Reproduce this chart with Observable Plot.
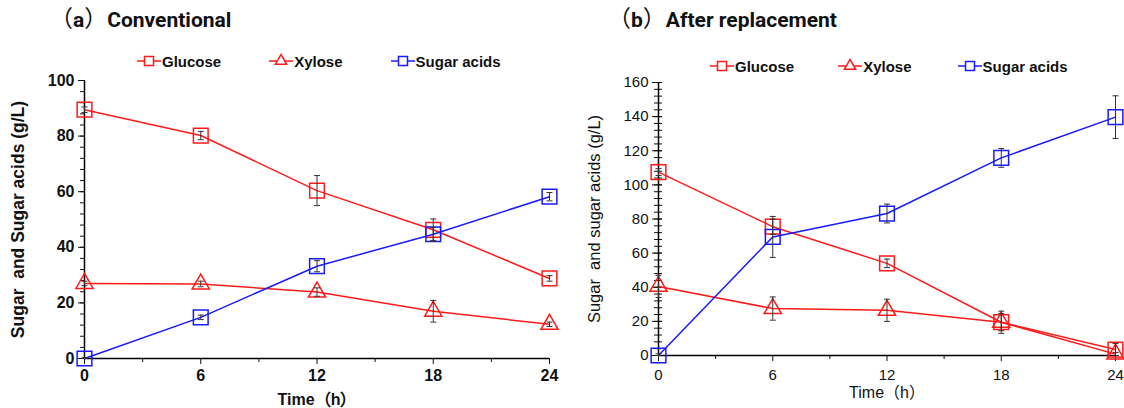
<!DOCTYPE html>
<html><head><meta charset="utf-8">
<script src="https://cdn.jsdelivr.net/npm/d3@7"></script>
<script src="https://cdn.jsdelivr.net/npm/@observablehq/plot@0.6"></script>
<style>
@font-face{font-family:"CJKParen";src:local("Noto Sans CJK SC");unicode-range:U+FF08-FF09;}
body{margin:0;background:#fff;}
#root{position:relative;width:1124px;height:408px;overflow:hidden;display:flex;}
.panel{width:562px;height:408px;flex:none;}
.title{height:40px;line-height:48px;font:bold 21px Roboto,"Liberation Sans",sans-serif;color:#111;white-space:pre;overflow:visible;}
.title .p{font:normal 23px "Noto Sans CJK SC",sans-serif;}
.legend{display:flex;align-items:center;height:24px;font:bold 15px "Liberation Sans",Arial,sans-serif;color:#111;}
.legend .item{display:flex;align-items:center;}
.legend svg{overflow:visible;margin-right:1px;}
svg{overflow:visible}
</style></head><body><div id="root"></div>
<script>
// ---- data ----
const time = [0, 6, 12, 18, 24];
const minorTimeTicks = [3, 9, 15, 21];
const seriesNames = ["Glucose", "Xylose", "Sugar acids"];

// (a) Conventional
const glucoseA    = [89.5, 80.2, 60.4, 46.3, 28.8];
const glucoseAErr = [1.0, 1.5, 5.4, 3.9, 1.0];
const xyloseA     = [27.0, 26.8, 23.9, 17.0, 12.3];
const xyloseAErr  = [0.8, 1.0, 1.5, 3.9, 0.8];
const acidsA      = [0, 14.8, 33.2, 44.7, 58.2];
const acidsAErr   = [0.3, 0.8, 2.0, 2.5, 1.5];

// (b) After replacement
const glucoseB    = [107.5, 75.5, 54.0, 19.5, 3.5];
const glucoseBErr = [2.0, 4.5, 2.5, 6.5, 3.5];
const xyloseB     = [40.5, 27.5, 26.5, 19.5, 0.8];
const xyloseBErr  = [6.5, 6.8, 6.5, 5.0, 1.0];
const acidsB      = [0, 69.5, 83.2, 115.8, 139.7];
const acidsBErr   = [1.0, 12.0, 5.5, 5.5, 12.5];

const yTicksA = [0, 20, 40, 60, 80, 100];
const yTicksB = [0, 20, 40, 60, 80, 100, 120, 140, 160];

const RED = "#ff1a1a", BLUE = "#1a1aff", ERR = "#333";

const capSymbol = {draw(ctx){ ctx.moveTo(-3, 0); ctx.lineTo(3, 0); }};

function rowsOf(values, errs){ return values.map((v, i) => ({t: time[i], v, err: errs[i]})); }

function chart(cfg){
  const marks = [];
  // minor ticks
  marks.push(Plot.axisX({ticks: minorTimeTicks, tickSize: 4, tickFormat: () => "", label: null}));
  marks.push(Plot.axisY({ticks: cfg.yMinor, tickSize: 4, tickFormat: () => "", label: null}));
  if (cfg.cross) marks.push(Plot.axisY({ticks: cfg.yMinor, tickSize: -4, tickFormat: () => "", label: null}));
  // major ticks + labels
  marks.push(Plot.axisX({ticks: time, tickSize: 6, tickPadding: cfg.xTickPad, fontSize: cfg.tickFont, label: null}));
  marks.push(Plot.axisY({ticks: cfg.yTicks, tickSize: 6, tickPadding: 4, fontSize: cfg.tickFont, label: null}));
  if (cfg.cross) marks.push(Plot.axisY({ticks: cfg.yTicks, tickSize: -4, tickFormat: () => "", label: null}));
  // axis titles
  marks.push(Plot.axisX({ticks: [], tickSize: 0, fontSize: cfg.labelFont, label: "Time（h）", labelAnchor: "center", labelOffset: cfg.xLabelOffset, labelArrow: "none"}));
  marks.push(Plot.axisY({ticks: [], tickSize: 0, fontSize: cfg.yLabelFont, label: cfg.yLabel, labelAnchor: "center", labelOffset: cfg.yLabelOffset, labelArrow: "none"}));
  marks.push(Plot.ruleY([0], {stroke: "#000", strokeWidth: 1.5}));
  marks.push(Plot.ruleX([0], {stroke: "#000", strokeWidth: 1.5}));
  cfg.series.forEach(s => {
    marks.push(Plot.line(rowsOf(s.values, s.err), {x: "t", y: "v", stroke: s.color, strokeWidth: 1.5}));
  });
  cfg.series.forEach(s => {
    marks.push(Plot.dot(rowsOf(s.values, s.err), {x: "t", y: "v", symbol: s.symbol, r: s.symbol === "square" ? 8.3 : 6.4, stroke: s.color, strokeWidth: 1.5, fill: "none"}));
  });
  cfg.series.forEach(s => {
    const data = rowsOf(s.values, s.err);
    marks.push(Plot.ruleX(data, {x: "t", y1: d => d.v - d.err, y2: d => d.v + d.err, stroke: ERR, strokeWidth: 1}));
    marks.push(Plot.dot(data, {x: "t", y: d => d.v + d.err, symbol: capSymbol, r: 3, stroke: ERR, strokeWidth: 1}));
    marks.push(Plot.dot(data, {x: "t", y: d => Math.max(0, d.v - d.err), symbol: capSymbol, r: 3, stroke: ERR, strokeWidth: 1}));
  });
  return Plot.plot({
    width: 562, height: cfg.height,
    marginLeft: cfg.ml, marginRight: cfg.mr, marginTop: cfg.mt, marginBottom: cfg.mb,
    style: {fontFamily: '"CJKParen", "Liberation Sans", Arial, "Noto Sans CJK SC", sans-serif', fontSize: "14px", fontWeight: cfg.weight, color: "#111", overflow: "visible", background: "transparent"},
    x: {domain: [0, 24]},
    y: {domain: [0, cfg.ymax]},
    marks
  });
}

function legend(series, padLeft, gaps){
  const div = document.createElement("div");
  div.className = "legend";
  div.style.paddingLeft = padLeft + "px";
  series.forEach((s, i) => {
    const item = document.createElement("div");
    item.className = "item";
    item.style.marginRight = (gaps[i] || 0) + "px";
    const svg = d3.create("svg").attr("width", 24).attr("height", 14);
    svg.append("line").attr("x1", 0).attr("x2", 24).attr("y1", 7).attr("y2", 7).attr("stroke", s.color).attr("stroke-width", 1.5);
    svg.append("path").attr("transform", "translate(12,7)")
      .attr("d", d3.symbol(s.symbol === "square" ? d3.symbolSquare : d3.symbolTriangle, s.symbol === "square" ? 81 : 55)())
      .attr("fill", "#fff").attr("stroke", s.color).attr("stroke-width", 1.5);
    item.appendChild(svg.node());
    const span = document.createElement("span");
    span.textContent = s.name;
    item.appendChild(span);
    div.appendChild(item);
  });
  return div;
}

function panel(cfg){
  const p = document.createElement("div");
  p.className = "panel";
  const t = document.createElement("div");
  t.className = "title";
  t.style.paddingLeft = cfg.titleLeft + "px";
  // full-width parentheses in a CJK face, the rest in the Latin face
  for (const ch of cfg.title) {
    if (ch === "（" || ch === "）") {
      const sp = document.createElement("span");
      sp.className = "p";
      sp.textContent = ch;
      t.appendChild(sp);
    } else {
      t.appendChild(document.createTextNode(ch));
    }
  }
  t.normalize();
  p.appendChild(t);
  const lg = legend(cfg.series, cfg.legendLeft, cfg.legendGaps);
  lg.style.marginTop = cfg.legendTop + "px";
  p.appendChild(lg);
  p.appendChild(chart(cfg));
  document.getElementById("root").appendChild(p);
}

panel({
  title: "（a）Conventional", titleLeft: 50,
  legendLeft: 137, legendGaps: [48, 48], legendTop: 9,
  height: 335, ml: 84, mr: 13, mt: 7, mb: 50, ymax: 100,
  yTicks: yTicksA, yMinor: d3.range(0, 101, 4), cross: false, weight: "bold",
  tickFont: 16, labelFont: 16, yLabelFont: 17.5, xTickPad: 5,
  yLabel: "Sugar\u00a0 and Sugar acids (g/L)", yLabelOffset: 73, xLabelOffset: 46,
  series: [
    {name: seriesNames[0], values: glucoseA, err: glucoseAErr, color: RED, symbol: "square"},
    {name: seriesNames[1], values: xyloseA, err: xyloseAErr, color: RED, symbol: "triangle"},
    {name: seriesNames[2], values: acidsA, err: acidsAErr, color: BLUE, symbol: "square"}
  ]
});

panel({
  title: "（b）After replacement", titleLeft: 46,
  legendLeft: 148, legendGaps: [44, 46], legendTop: 14,
  height: 330, ml: 96, mr: 9, mt: 4, mb: 53, ymax: 160,
  yTicks: yTicksB, yMinor: d3.range(0, 161, 4), cross: true, weight: "normal",
  tickFont: 15, labelFont: 16, yLabelFont: 16.5, xTickPad: 8,
  yLabel: "Sugar\u00a0 and sugar acids (g/L)", yLabelOffset: 70, xLabelOffset: 42,
  series: [
    {name: seriesNames[0], values: glucoseB, err: glucoseBErr, color: RED, symbol: "square"},
    {name: seriesNames[1], values: xyloseB, err: xyloseBErr, color: RED, symbol: "triangle"},
    {name: seriesNames[2], values: acidsB, err: acidsBErr, color: BLUE, symbol: "square"}
  ]
});
</script>
</body></html>
